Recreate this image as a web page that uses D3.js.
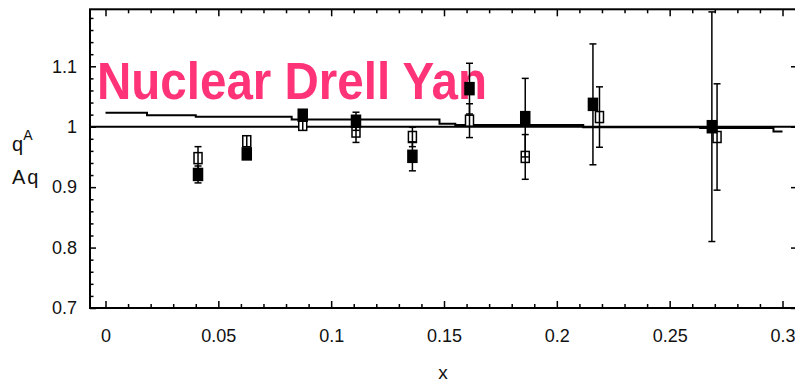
<!DOCTYPE html>
<html>
<head>
<meta charset="utf-8">
<script src="https://cdn.jsdelivr.net/npm/d3@7"></script>
<style>
  html, body { margin: 0; padding: 0; background: #fff; }
  svg { display: block; }
  text { font-family: "Liberation Sans", Arial, Helvetica, sans-serif; }
</style>
</head>
<body>
<svg id="chart" width="795" height="382"></svg>
<script>
// ---- data ----
const filledX   = [0.041, 0.0626, 0.0874, 0.111, 0.136, 0.1613, 0.186, 0.216, 0.2687];
const filledY   = [0.921, 0.955, 1.019, 1.009, 0.951, 1.063, 1.015, 1.037, 1.000];
const filledErr = [0.014, 0.008, 0.008, 0.015, 0.024, 0.042, 0.065, 0.100, 0.190];

const openX   = [0.041, 0.0626, 0.0874, 0.111, 0.136, 0.1613, 0.186, 0.2189, 0.271];
const openY   = [0.948, 0.976, 1.003, 0.992, 0.983, 1.010, 0.950, 1.016, 0.983];
const openErr = [0.019, 0.008, 0.006, 0.018, 0.016, 0.028, 0.037, 0.050, 0.088];

// theory step curve: segment start x and value
const curveX = [0, 0.0184, 0.040, 0.0825, 0.148, 0.155, 0.2117, 0.2635, 0.296, 0.3];
const curveY = [1.023, 1.019, 1.0165, 1.012, 1.005, 1.003, 0.999, 0.998, 0.992, 0.992];

const xMajor = [0, 0.05, 0.1, 0.15, 0.2, 0.25, 0.3];
const xMajorLabels = ["0", "0.05", "0.1", "0.15", "0.2", "0.25", "0.3"];
const xMinor = d3.range(1, 31).map(i => i / 100).filter(v => Math.round(v * 100) % 5 !== 0);
const yMajor = [0.7, 0.8, 0.9, 1.0, 1.1];
const yMajorLabels = ["0.7", "0.8", "0.9", "1", "1.1"];
const yMinor = d3.range(36, 60).map(i => i / 50).filter(v => Math.round(v * 50) % 5 !== 0);

const titleText = "Nuclear Drell Yan";
const xLabel = "x";

// ---- layout ----
const svg = d3.select("#chart");
const L = 90, R = 797, T = 9.3, B = 308;
const x = d3.scaleLinear().domain([0, 0.3]).range([105.5, 782.5]);
const y = d3.scaleLinear().domain([0.7, 1.1943]).range([B, T]);

// title (below data)
svg.append("text")
  .attr("x", 97).attr("y", 99)
  .attr("font-size", 51).attr("font-weight", "bold")
  .attr("fill", "#ff3377")
  .attr("textLength", 390).attr("lengthAdjust", "spacingAndGlyphs")
  .text(titleText);

// axes
function styleAxis(g) {
  g.select(".domain").remove();
  g.selectAll(".tick line").attr("stroke", "#000").attr("stroke-width", 1.5);
  g.selectAll("text").attr("font-size", 18).attr("fill", "#111")
    .attr("font-family", "'Liberation Sans', Arial, sans-serif");
}
// bottom
svg.append("g").attr("transform", `translate(0,${B})`)
  .call(d3.axisBottom(x).tickValues(xMajor).tickFormat((d, i) => xMajorLabels[i]).tickSize(-7).tickPadding(21))
  .call(styleAxis);
svg.append("g").attr("transform", `translate(0,${B})`)
  .call(d3.axisBottom(x).tickValues(xMinor).tickFormat("").tickSize(-4))
  .call(styleAxis);
// top
svg.append("g").attr("transform", `translate(0,${T})`)
  .call(d3.axisTop(x).tickValues(xMajor).tickFormat("").tickSize(-7))
  .call(styleAxis);
svg.append("g").attr("transform", `translate(0,${T})`)
  .call(d3.axisTop(x).tickValues(xMinor).tickFormat("").tickSize(-4))
  .call(styleAxis);
// left
svg.append("g").attr("transform", `translate(${L},0)`)
  .call(d3.axisLeft(y).tickValues(yMajor).tickFormat((d, i) => yMajorLabels[i]).tickSize(-6).tickPadding(13))
  .call(styleAxis);
svg.append("g").attr("transform", `translate(${L},0)`)
  .call(d3.axisLeft(y).tickValues(yMinor).tickFormat("").tickSize(-3.5))
  .call(styleAxis);
// right
svg.append("g").attr("transform", `translate(${R},0)`)
  .call(d3.axisRight(y).tickValues(yMajor).tickFormat("").tickSize(-6))
  .call(styleAxis);

// frame
svg.append("rect").attr("x", L).attr("y", T).attr("width", R - L).attr("height", B - T)
  .attr("fill", "none").attr("stroke", "#000").attr("stroke-width", 2);

// reference line at 1
svg.append("line").attr("x1", L).attr("x2", R).attr("y1", y(1)).attr("y2", y(1))
  .attr("stroke", "#000").attr("stroke-width", 2);

// step curve
const stepPts = curveX.map((d, i) => [d, curveY[i]]);
svg.append("path").datum(stepPts)
  .attr("d", d3.line().x(d => x(d[0])).y(d => y(d[1])).curve(d3.curveStepAfter))
  .attr("fill", "none").attr("stroke", "#000").attr("stroke-width", 2);

// error bars + markers
const cap = 3.5;
function drawSeries(xs, ys, es, filled, mw, mh) {
  const data = xs.map((d, i) => ({x: d, y: ys[i], e: es[i]}));
  const g = svg.append("g");
  const eb = g.selectAll("g.eb").data(data).join("g");
  eb.append("line").attr("x1", d => x(d.x)).attr("x2", d => x(d.x))
    .attr("y1", d => y(Math.min(d.y + d.e, 1.1943))).attr("y2", d => y(d.y - d.e))
    .attr("stroke", "#000").attr("stroke-width", 1.5);
  eb.append("line").attr("x1", d => x(d.x) - cap).attr("x2", d => x(d.x) + cap)
    .attr("y1", d => y(Math.min(d.y + d.e, 1.1943))).attr("y2", d => y(Math.min(d.y + d.e, 1.1943)))
    .attr("stroke", "#000").attr("stroke-width", 1.5);
  eb.append("line").attr("x1", d => x(d.x) - cap).attr("x2", d => x(d.x) + cap)
    .attr("y1", d => y(d.y - d.e)).attr("y2", d => y(d.y - d.e))
    .attr("stroke", "#000").attr("stroke-width", 1.5);
  g.selectAll("rect").data(data).join("rect")
    .attr("x", d => x(d.x) - mw / 2).attr("y", d => y(d.y) - mh / 2)
    .attr("width", mw).attr("height", mh)
    .attr("fill", filled ? "#000" : "#fff")
    .attr("stroke", "#000").attr("stroke-width", 1.5);
  if (!filled) {
    g.selectAll("line.mid").data(data).join("line").attr("class", "mid")
      .attr("x1", d => x(d.x)).attr("x2", d => x(d.x))
      .attr("y1", d => y(d.y) - mh / 2).attr("y2", d => y(d.y) + mh / 2)
      .attr("stroke", "#000").attr("stroke-width", 1.5);
  }
}
drawSeries(openX, openY, openErr, false, 8, 11);
drawSeries(filledX, filledY, filledErr, true, 9, 12);

// axis titles
svg.append("text").attr("x", 443).attr("y", 379).attr("text-anchor", "middle")
  .attr("font-size", 19).attr("fill", "#111").text(xLabel);
const yl = svg.append("text").attr("x", 12).attr("y", 151).attr("font-size", 20).attr("fill", "#111");
yl.append("tspan").text("q");
yl.append("tspan").attr("font-size", 14).attr("dy", -11).text("A");
svg.append("text").attr("x", 12).attr("y", 184).attr("font-size", 20).attr("fill", "#111")
  .attr("letter-spacing", 2).text("Aq");
</script>
</body>
</html>
